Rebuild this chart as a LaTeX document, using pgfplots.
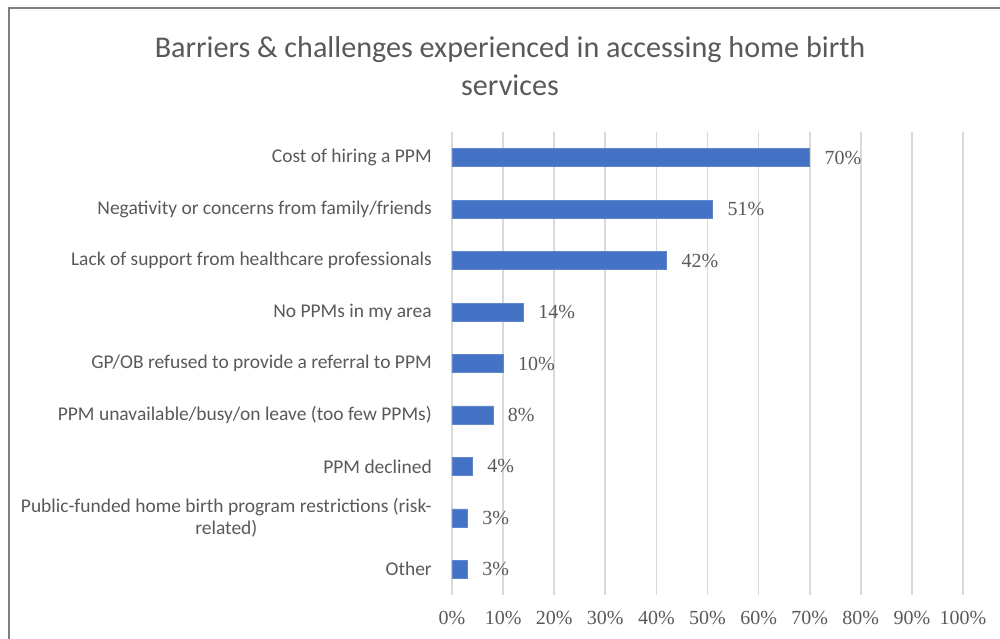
\documentclass[border=0pt]{standalone}
\usepackage{fontspec}
\setmainfont{Carlito}
\newfontfamily\serifnum{Liberation Serif}
\usepackage{pgfplots}
\pgfplotsset{compat=1.18}
\definecolor{barblue}{HTML}{4472C4}
\definecolor{txtgray}{HTML}{595959}
\definecolor{gridgray}{HTML}{D9D9D9}
\definecolor{framegray}{HTML}{808080}

\begin{document}
\begin{tikzpicture}
  % 1 px of the reference = 0.75pt
  \useasboundingbox (0,0) rectangle (750pt,479.25pt);
  \draw[framegray, line width=1.5pt] (6.75pt,0) -- (6.75pt,473.25pt) -- (750pt,473.25pt);
  \node[align=center, text=txtgray, font=\fontsize{22.6}{29}\selectfont]
    at (382.5pt,429.75pt) {Barriers \& challenges experienced in accessing home birth\\services};
  \begin{axis}[
      at={(339pt,33pt)}, anchor=south west,
      scale only axis,
      width=383.25pt, height=347.25pt,
      xbar, bar width=13.5pt,
      xmin=0, xmax=100,
      ymin=-0.5, ymax=8.5,
      y dir=reverse,
      xtick={0,10,...,100},
      xticklabel={\pgfmathprintnumber{\tick}\%},
      xticklabel style={font=\serifnum\fontsize{15}{16}\selectfont, text=txtgray,
        anchor=north, inner sep=0pt, yshift=-12pt},
      /pgf/number format/assume math mode=true,
      ytick={0,...,8},
      yticklabels={Cost of hiring a PPM,
        Negativity or concerns from family/friends,
        Lack of support from healthcare professionals,
        No PPMs in my area,
        GP/OB refused to provide a referral to PPM,
        PPM unavailable/busy/on leave (too few PPMs),
        PPM declined,
        {Public-funded home birth program restrictions (risk-\\related)},
        Other},
      yticklabel style={font=\fontsize{14.6}{16.5}\selectfont, text=txtgray,
        anchor=east, align=center, inner sep=0pt, xshift=-15pt},
      axis line style={draw=none},
      major tick length=0pt,
      xmajorgrids,
      major grid style={gridgray, line width=1.3pt},
      clip=false,
      nodes near coords={\pgfmathprintnumber{\pgfplotspointmeta}\%},
      point meta=x,
      every node near coord/.append style={font=\serifnum\fontsize{15}{16}\selectfont,
        text=txtgray, anchor=west, inner sep=0pt, xshift=11pt},
    ]
    \addplot[fill=barblue, draw=barblue!85!white] coordinates {
      (70,0) (51,1) (42,2) (14,3) (10,4) (8,5) (4,6) (3,7) (3,8)
    };
  \end{axis}
\end{tikzpicture}
\end{document}
